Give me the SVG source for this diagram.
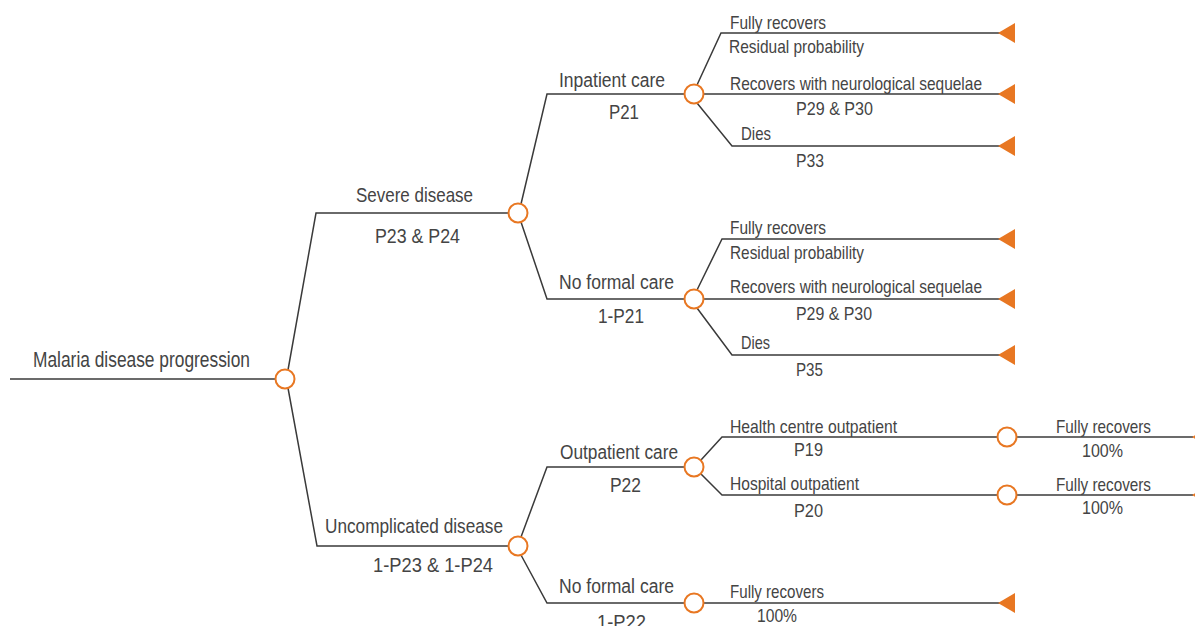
<svg xmlns="http://www.w3.org/2000/svg" width="1195" height="626" viewBox="0 0 1195 626">
<defs>
<style>
.ln{fill:none;stroke:#3a3a3a;stroke-width:1.5;stroke-linejoin:miter}
.ch{fill:#fff;stroke:#e87722;stroke-width:2}
.tr{fill:#e87722;stroke:none}
text{font-family:"Liberation Sans",Arial,sans-serif;fill:#444;font-size:19px}
.l0{font-size:22px}
.l1{font-size:21px}
.l2{font-size:20px}
.lf{font-size:19px}
</style>
</defs>
<rect width="1195" height="626" fill="#fff"/>
<g id="connectors">
<line class="ln" x1="10" y1="379" x2="275.5" y2="379"/>
<polyline class="ln" points="288,370 316,213 508.5,213"/>
<polyline class="ln" points="288,388 317,546 508.5,546"/>
<polyline class="ln" points="521,204 547,94 684.5,94"/>
<polyline class="ln" points="521,222 547,299 684.5,299"/>
<polyline class="ln" points="521,537 547,467 684.5,467"/>
<polyline class="ln" points="521,555 547,603 684.5,603"/>
<polyline class="ln" points="697,85 721,33 1000,33"/>
<line class="ln" x1="703.5" y1="94" x2="1000" y2="94"/>
<polyline class="ln" points="697,103 732,146 1000,146"/>
<polyline class="ln" points="697,290 722,239 1000,239"/>
<line class="ln" x1="703.5" y1="299" x2="1000" y2="299"/>
<polyline class="ln" points="697,308 732,355 1000,355"/>
<polyline class="ln" points="701,460 722,437 997.5,437"/>
<polyline class="ln" points="701,474 722,495 997.5,495"/>
<line class="ln" x1="1016.5" y1="437" x2="1193" y2="437"/>
<line class="ln" x1="1016.5" y1="495" x2="1193" y2="495"/>
<line class="ln" x1="703.5" y1="603" x2="1000" y2="603"/>
</g>
<g id="root">
<text class="l0" x="33" y="367" textLength="217" lengthAdjust="spacingAndGlyphs">Malaria disease progression</text>
<circle class="ch" cx="285" cy="379" r="9.5"/>
</g>
<g id="severe">
<text class="l1" x="356" y="202" textLength="117" lengthAdjust="spacingAndGlyphs">Severe disease</text>
<text class="l1" x="375" y="243" textLength="85" lengthAdjust="spacingAndGlyphs">P23 &amp; P24</text>
<circle class="ch" cx="518" cy="213" r="9.5"/>
</g>
<g id="uncomplicated">
<text class="l1" x="325" y="533" textLength="178" lengthAdjust="spacingAndGlyphs">Uncomplicated disease</text>
<text class="l1" x="373" y="572" textLength="120" lengthAdjust="spacingAndGlyphs">1-P23 &amp; 1-P24</text>
<circle class="ch" cx="518" cy="546" r="9.5"/>
</g>
<g id="inpatient">
<text class="l2" x="559" y="87" textLength="106" lengthAdjust="spacingAndGlyphs">Inpatient care</text>
<text class="l2" x="609" y="119" textLength="30" lengthAdjust="spacingAndGlyphs">P21</text>
<circle class="ch" cx="694" cy="94" r="9.5"/>
</g>
<g id="noformal1">
<text class="l2" x="559" y="289" textLength="115" lengthAdjust="spacingAndGlyphs">No formal care</text>
<text class="l2" x="598" y="323" textLength="46" lengthAdjust="spacingAndGlyphs">1-P21</text>
<circle class="ch" cx="694" cy="299" r="9.5"/>
</g>
<g id="outpatient">
<text class="l2" x="560" y="459" textLength="118" lengthAdjust="spacingAndGlyphs">Outpatient care</text>
<text class="l2" x="610" y="492" textLength="31" lengthAdjust="spacingAndGlyphs">P22</text>
<circle class="ch" cx="694" cy="467" r="9.5"/>
</g>
<g id="noformal2">
<text class="l2" x="559" y="593" textLength="115" lengthAdjust="spacingAndGlyphs">No formal care</text>
<text class="l2" x="597" y="629" textLength="49" lengthAdjust="spacingAndGlyphs">1-P22</text>
<circle class="ch" cx="694" cy="603" r="9.5"/>
</g>
<g id="ip-recovers">
<text class="lf" x="730" y="29" textLength="96" lengthAdjust="spacingAndGlyphs">Fully recovers</text>
<text class="lf" x="729" y="53" textLength="135" lengthAdjust="spacingAndGlyphs">Residual probability</text>
<polygon class="tr" points="998,33 1015,23 1015,43"/>
</g>
<g id="ip-sequelae">
<text class="lf" x="730" y="90" textLength="252" lengthAdjust="spacingAndGlyphs">Recovers with neurological sequelae</text>
<text class="lf" x="796" y="115" textLength="77" lengthAdjust="spacingAndGlyphs">P29 &amp; P30</text>
<polygon class="tr" points="998,94 1015,84 1015,104"/>
</g>
<g id="ip-dies">
<text class="lf" x="741" y="140" textLength="30" lengthAdjust="spacingAndGlyphs">Dies</text>
<text class="lf" x="796" y="167" textLength="28" lengthAdjust="spacingAndGlyphs">P33</text>
<polygon class="tr" points="998,146 1015,136 1015,156"/>
</g>
<g id="nf-recovers">
<text class="lf" x="730" y="234" textLength="96" lengthAdjust="spacingAndGlyphs">Fully recovers</text>
<text class="lf" x="730" y="259" textLength="134" lengthAdjust="spacingAndGlyphs">Residual probability</text>
<polygon class="tr" points="998,239 1015,229 1015,249"/>
</g>
<g id="nf-sequelae">
<text class="lf" x="730" y="293" textLength="252" lengthAdjust="spacingAndGlyphs">Recovers with neurological sequelae</text>
<text class="lf" x="796" y="320" textLength="76" lengthAdjust="spacingAndGlyphs">P29 &amp; P30</text>
<polygon class="tr" points="998,299 1015,289 1015,309"/>
</g>
<g id="nf-dies">
<text class="lf" x="741" y="349" textLength="29" lengthAdjust="spacingAndGlyphs">Dies</text>
<text class="lf" x="796" y="376" textLength="27" lengthAdjust="spacingAndGlyphs">P35</text>
<polygon class="tr" points="998,355 1015,345 1015,365"/>
</g>
<g id="health-centre">
<text class="lf" x="730" y="433" textLength="167" lengthAdjust="spacingAndGlyphs">Health centre outpatient</text>
<text class="lf" x="794" y="456" textLength="29" lengthAdjust="spacingAndGlyphs">P19</text>
<circle class="ch" cx="1007" cy="437" r="9.5"/>
</g>
<g id="hospital">
<text class="lf" x="730" y="490" textLength="129" lengthAdjust="spacingAndGlyphs">Hospital outpatient</text>
<text class="lf" x="794" y="517" textLength="29" lengthAdjust="spacingAndGlyphs">P20</text>
<circle class="ch" cx="1007" cy="495" r="9.5"/>
</g>
<g id="hc-recovers">
<text class="lf" x="1056" y="433" textLength="95" lengthAdjust="spacingAndGlyphs">Fully recovers</text>
<text class="lf" x="1082" y="457" textLength="41" lengthAdjust="spacingAndGlyphs">100%</text>
<polygon class="tr" points="1192,437 1209,427 1209,447"/>
</g>
<g id="ho-recovers">
<text class="lf" x="1056" y="491" textLength="95" lengthAdjust="spacingAndGlyphs">Fully recovers</text>
<text class="lf" x="1082" y="514" textLength="41" lengthAdjust="spacingAndGlyphs">100%</text>
<polygon class="tr" points="1192,495 1209,485 1209,505"/>
</g>
<g id="nf2-recovers">
<text class="lf" x="730" y="598" textLength="94" lengthAdjust="spacingAndGlyphs">Fully recovers</text>
<text class="lf" x="757" y="622" textLength="40" lengthAdjust="spacingAndGlyphs">100%</text>
<polygon class="tr" points="998,603 1015,593 1015,613"/>
</g>
</svg>
